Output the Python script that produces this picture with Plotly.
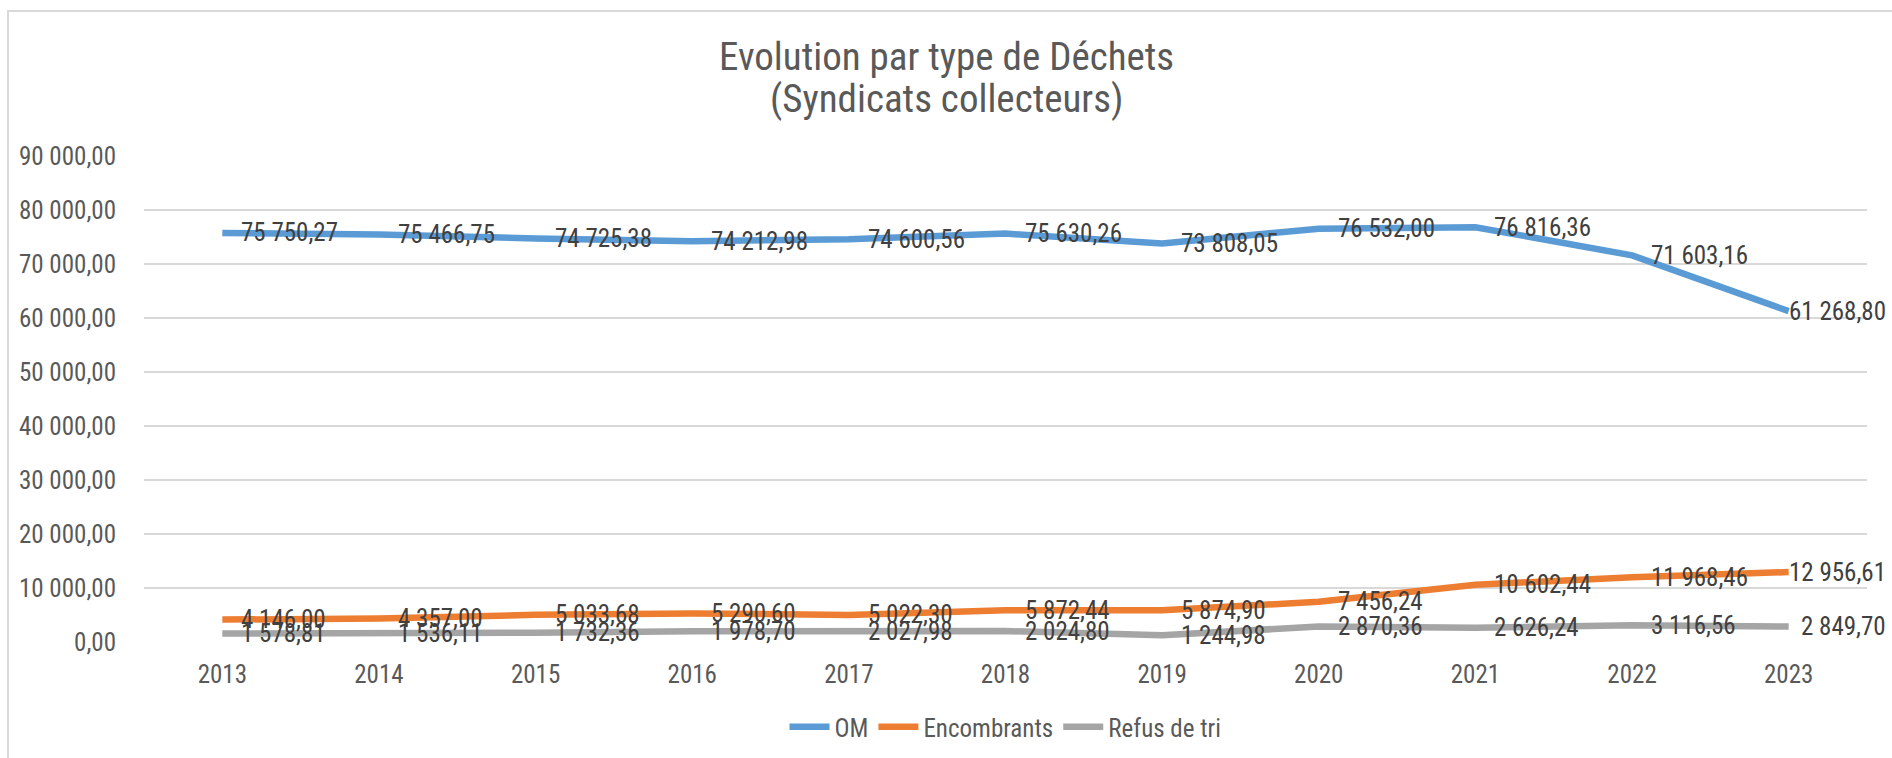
import plotly.graph_objects as go

years = ["2013", "2014", "2015", "2016", "2017", "2018", "2019", "2020", "2021", "2022", "2023"]
om = [75750.27, 75466.75, 74725.38, 74212.98, 74600.56, 75630.26, 73808.05, 76532.00, 76816.36, 71603.16, 61268.80]
encombrants = [4146.00, 4357.00, 5033.68, 5290.60, 5022.30, 5872.44, 5874.90, 7456.24, 10602.44, 11968.46, 12956.61]
refus = [1578.81, 1536.11, 1732.36, 1978.70, 2027.98, 2024.80, 1244.98, 2870.36, 2626.24, 3116.56, 2849.70]

title_lines = ["Evolution par type de Déchets", "(Syndicats collecteurs)"]

series = [("OM", om, "#5B9BD5"), ("Encombrants", encombrants, "#ED7D31"), ("Refus de tri", refus, "#A5A5A5")]

FONT = "Liberation Sans Narrow, Roboto Condensed, Liberation Sans, sans-serif"
FS = 25

def fmt(v):
    s = f"{v:,.2f}"
    return s.replace(",", " ").replace(".", ",")

W, H = 1892, 758
L, T = 144, 156
R = W - 1867
B = H - 642
pw, ph = W - L - R, H - T - B

fig = go.Figure()
for name, vals, col in series:
    fig.add_trace(go.Scatter(
        x=years, y=vals, name=name, mode="lines",
        line=dict(color=col, width=6.5), hoverinfo="skip",
    ))
    n = len(vals)
    for i, yv in enumerate(vals):
        last = i == n - 1
        # category axis: annotation x given as the category's serial index;
        # the last labels are pulled back so they stay inside the chart area
        fig.add_annotation(x=i, y=yv, xref="x", yref="y", text=fmt(yv),
                           showarrow=False,
                           xanchor="right" if last else "left", yanchor="middle",
                           xshift=99 if last else 17,
                           font=dict(family=FONT, size=FS, color="#404040"))

fig.update_layout(
    width=W, height=H,
    margin=dict(l=L, r=R, t=T, b=B, pad=0),
    paper_bgcolor="white", plot_bgcolor="white",
    separators=", ",
    font=dict(family=FONT, size=FS, color="#595959"),
    xaxis=dict(type="category", range=[-0.5, len(years) - 0.5], automargin=False,
               showgrid=False, zeroline=False, showline=False,
               ticks="outside", ticklen=10, tickcolor="rgba(0,0,0,0)",
               tickfont=dict(family=FONT, size=FS, color="#595959")),
    yaxis=dict(range=[0, 90000], dtick=10000, tickformat=",.2f", automargin=False,
               showgrid=True, gridcolor="#D9D9D9", gridwidth=2,
               zeroline=False, showline=False,
               ticks="outside", ticklen=22, tickcolor="rgba(0,0,0,0)",
               tickfont=dict(family=FONT, size=FS, color="#595959")),
    legend=dict(orientation="h", x=0.5, xanchor="center", xref="paper",
                y=1 - 727 / H, yanchor="middle", yref="container",
                font=dict(family=FONT, size=FS, color="#595959"),
                itemwidth=40, traceorder="normal"),
    showlegend=True,
)

for line, yc in zip(title_lines, [57, 99]):
    fig.add_annotation(text=line, xref="paper", yref="paper",
                       x=(W / 2 - L) / pw, xanchor="center",
                       y=1 + (T - yc) / ph, yanchor="middle",
                       showarrow=False,
                       font=dict(family=FONT, size=39, color="#595959"))

fig.add_shape(type="rect", xref="paper", yref="paper",
              x0=(8 - L) / pw, x1=(W + 20 - L) / pw,
              y0=-(B + 20) / ph, y1=1 + (T - 11) / ph,
              line=dict(color="#D9D9D9", width=2), layer="below")

fig.write_html(
    "out.html",
    config={"displayModeBar": False},
    post_script="document.body.style.margin='0';document.body.style.overflow='hidden';",
)
